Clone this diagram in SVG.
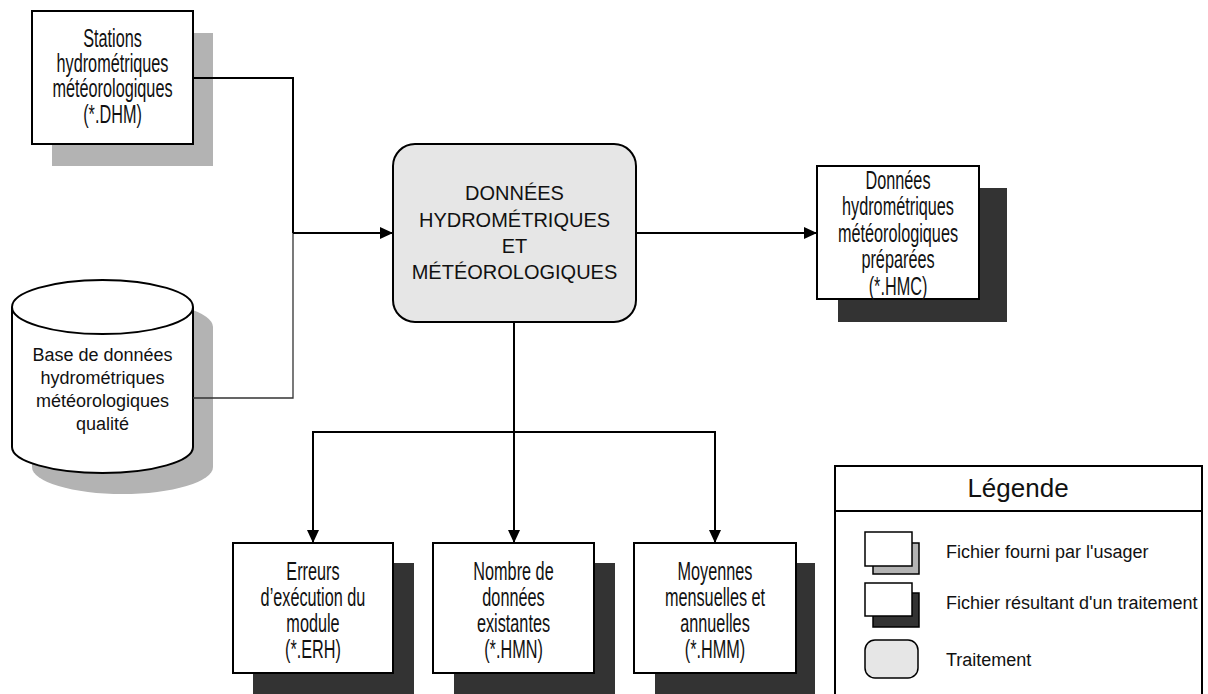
<svg xmlns="http://www.w3.org/2000/svg" width="1208" height="694" viewBox="0 0 1208 694">
<style>
.box{fill:#fff;stroke:#000;stroke-width:2}
.sh-light{fill:#b3b3b3}
.sh-dark{fill:#333}
.proc{fill:#e6e6e6;stroke:#000;stroke-width:2}
.cond{font-family:"Liberation Sans",Arial,sans-serif;font-size:25px;fill:#111;text-anchor:middle}
.arial{font-family:"Liberation Sans",Arial,sans-serif;fill:#111}
.conn{fill:none;stroke:#000;stroke-width:2}
</style>
<defs>
<marker id="arr" viewBox="0 0 13 12" refX="13" refY="6" markerWidth="13" markerHeight="12" markerUnits="userSpaceOnUse" orient="auto">
<path d="M0,0 L13,6 L0,12 Z" fill="#000"/>
</marker>
</defs>
<rect width="1208" height="694" fill="#fff"/>

<g id="stations">
<rect class="sh-light" x="52" y="33" width="161" height="133"/>
<rect class="box" x="32" y="11" width="161" height="133"/>
<g transform="translate(112.5,0) scale(0.65,1)">
<text class="cond" x="0" y="47">Stations</text>
<text class="cond" x="0" y="72">hydrométriques</text>
<text class="cond" x="0" y="97">météorologiques</text>
<text class="cond" x="0" y="123">(*.DHM)</text>
</g>
</g>

<g id="base">
<path class="sh-light" d="M32,327 L32,467 A90.5,27 0 0,0 213,467 L213,327 A90.5,27 0 0,0 32,327 Z"/>
<path d="M12,307 L12,447 A90.5,26 0 0,0 193,447 L193,307" fill="#fff" stroke="#000" stroke-width="2"/>
<ellipse cx="102.5" cy="307" rx="90.5" ry="27" fill="#fff" stroke="#000" stroke-width="2"/>
<g class="arial" font-size="18" text-anchor="middle">
<text x="102.5" y="361">Base de données</text>
<text x="102.5" y="384">hydrométriques</text>
<text x="102.5" y="407">météorologiques</text>
<text x="102.5" y="430">qualité</text>
</g>
</g>

<g id="traitement">
<rect class="proc" x="393" y="144" width="243" height="178" rx="22" ry="22"/>
<g class="arial" font-size="20" text-anchor="middle">
<text x="514.5" y="200">DONNÉES</text>
<text x="514.5" y="227">HYDROMÉTRIQUES</text>
<text x="514.5" y="253">ET</text>
<text x="514.5" y="279">MÉTÉOROLOGIQUES</text>
</g>
</g>

<g id="hmc">
<rect class="sh-dark" x="838" y="188" width="169" height="134"/>
<rect class="box" x="817" y="166" width="162" height="133"/>
<g transform="translate(898,0) scale(0.65,1)">
<text class="cond" x="0" y="189">Données</text>
<text class="cond" x="0" y="215.5">hydrométriques</text>
<text class="cond" x="0" y="242">météorologiques</text>
<text class="cond" x="0" y="268.5">préparées</text>
<text class="cond" x="0" y="295">(*.HMC)</text>
</g>
</g>

<g id="erh">
<rect class="sh-dark" x="253" y="563" width="161" height="131"/>
<rect class="box" x="233" y="543" width="160" height="130"/>
<g transform="translate(313,0) scale(0.65,1)">
<text class="cond" x="0" y="580">Erreurs</text>
<text class="cond" x="0" y="606">d’exécution du</text>
<text class="cond" x="0" y="632">module</text>
<text class="cond" x="0" y="658">(*.ERH)</text>
</g>
</g>

<g id="hmn">
<rect class="sh-dark" x="454" y="563" width="161" height="131"/>
<rect class="box" x="433" y="543" width="161" height="130"/>
<g transform="translate(513.5,0) scale(0.65,1)">
<text class="cond" x="0" y="580">Nombre de</text>
<text class="cond" x="0" y="606">données</text>
<text class="cond" x="0" y="632">existantes</text>
<text class="cond" x="0" y="658">(*.HMN)</text>
</g>
</g>

<g id="hmm">
<rect class="sh-dark" x="655" y="563" width="160" height="131"/>
<rect class="box" x="634" y="543" width="162" height="130"/>
<g transform="translate(715,0) scale(0.65,1)">
<text class="cond" x="0" y="580">Moyennes</text>
<text class="cond" x="0" y="606">mensuelles et</text>
<text class="cond" x="0" y="632">annuelles</text>
<text class="cond" x="0" y="658">(*.HMM)</text>
</g>
</g>

<g id="connectors">
<polyline class="conn" points="193,78 293,78 293,233"/>
<polyline points="193,398 293,398 293,233" fill="none" stroke="#333" stroke-width="1.3"/>
<line class="conn" x1="293" y1="233" x2="393" y2="233" marker-end="url(#arr)"/>
<line class="conn" x1="636" y1="233" x2="817" y2="233" marker-end="url(#arr)"/>
<line class="conn" x1="514" y1="322" x2="514" y2="543" marker-end="url(#arr)"/>
<polyline class="conn" points="514,432 313,432 313,543" marker-end="url(#arr)"/>
<polyline class="conn" points="514,432 715,432 715,543" marker-end="url(#arr)"/>
</g>

<g id="legende">
<rect x="835" y="466" width="367" height="240" fill="#fff" stroke="#000" stroke-width="2"/>
<line x1="835" y1="511" x2="1202" y2="511" stroke="#000" stroke-width="2"/>
<text class="arial" x="1018" y="497" font-size="26" text-anchor="middle">Légende</text>
<rect x="873" y="543" width="46" height="31" fill="#b3b3b3" stroke="#000" stroke-width="1.5"/>
<rect x="865" y="532" width="47" height="34" fill="#fff" stroke="#000" stroke-width="1.5"/>
<rect x="873" y="593" width="46" height="34" fill="#333" stroke="#000" stroke-width="1.5"/>
<rect x="865" y="583" width="47" height="33" fill="#fff" stroke="#000" stroke-width="1.5"/>
<rect x="865" y="640" width="53" height="38" rx="10" ry="10" fill="#e6e6e6" stroke="#000" stroke-width="1.5"/>
<g class="arial" font-size="18">
<text x="946" y="558">Fichier fourni par l'usager</text>
<text x="946" y="609">Fichier résultant d'un traitement</text>
<text x="946" y="666">Traitement</text>
</g>
</g>
</svg>
